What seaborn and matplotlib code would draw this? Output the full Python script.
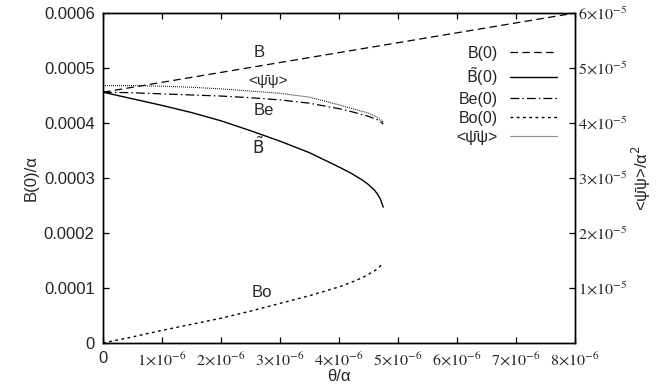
import numpy as np
import pandas as pd
import seaborn as sns
import matplotlib.pyplot as plt
from matplotlib.lines import Line2D

# theta/alpha in units of 1e-6
theta = [0, 0.5, 1.0, 1.5, 2.0, 2.5, 3.0, 3.5, 4.0, 4.2, 4.4, 4.5, 4.6, 4.65, 4.7, 4.75]
# values (units of 1e-4, left axis)
b_tilde = [4.56, 4.44, 4.32, 4.19, 4.04, 3.86, 3.67, 3.46, 3.20, 3.09, 2.96, 2.88, 2.78, 2.71, 2.62, 2.47]
b_even = [4.56, 4.55, 4.53, 4.51, 4.49, 4.46, 4.42, 4.36, 4.26, 4.21, 4.15, 4.12, 4.08, 4.06, 4.03, 3.98]
b_odd = [0.0, 0.11, 0.23, 0.34, 0.45, 0.58, 0.72, 0.86, 1.02, 1.10, 1.19, 1.25, 1.31, 1.35, 1.40, 1.46]
# condensate, units of 1e-5 (right axis)
psibar_psi = [4.68, 4.68, 4.67, 4.65, 4.62, 4.58, 4.54, 4.47, 4.33, 4.27, 4.21, 4.18, 4.13, 4.10, 4.06, 4.02]
# B(0) is a straight line
b_theta = [0, 8.0]
b_full = [4.56, 6.0]

xtick_vals = [1, 2, 3, 4, 5, 6, 7, 8]
ytick_left = [0, 1, 2, 3, 4, 5, 6]
ytick_right = [1, 2, 3, 4, 5, 6]

PSI = "<\u03c8\u0304\u03c8>"

sns.set_style("ticks")
plt.rcParams["font.family"] = ["Liberation Sans", "DejaVu Sans"]

x = np.array(theta) * 1e-6
df = pd.DataFrame({"theta": x,
                   "bt": np.array(b_tilde) * 1e-4,
                   "be": np.array(b_even) * 1e-4,
                   "bo": np.array(b_odd) * 1e-4,
                   "pp": np.array(psibar_psi) * 1e-5})

fig = plt.figure(figsize=(6.62, 3.85), dpi=100)
ax = fig.add_axes([0.1556, 0.1091, 0.713, 0.8571])
ax2 = ax.twinx()

styles = {
    "B": (0, (6, 3.5)),
    "Bt": "-",
    "Be": (0, (7, 2.5, 1.2, 2.5)),
    "Bo": (0, (2, 2.5)),
    "pp": (0, (0.8, 1.0)),
}

sns.lineplot(x=np.array(b_theta) * 1e-6, y=np.array(b_full) * 1e-4, ax=ax,
             color="k", lw=0.9, linestyle=styles["B"])
sns.lineplot(data=df, x="theta", y="bt", ax=ax, color="k", lw=1.0, linestyle=styles["Bt"])
sns.lineplot(data=df, x="theta", y="be", ax=ax, color="k", lw=0.9, linestyle=styles["Be"])
sns.lineplot(data=df, x="theta", y="bo", ax=ax, color="k", lw=1.0, linestyle=styles["Bo"])
sns.lineplot(data=df, x="theta", y="pp", ax=ax2, color="k", lw=0.8, linestyle=styles["pp"])

ax.set_xlim(0, 8e-6)
ax.set_ylim(0, 6e-4)
ax2.set_ylim(0, 6e-5)

ax.set_xticks([0] + [v * 1e-6 for v in xtick_vals])
ax.set_xticklabels(["0"] + [r"$%d{\times}10^{-6}$" % v for v in xtick_vals])
for i, t in enumerate(ax.get_xticklabels()):
    if i > 0:
        t.set_math_fontfamily("stix")
        t.set_fontsize(11.5)
    else:
        t.set_fontsize(12)

ax.set_yticks([v * 1e-4 for v in ytick_left])
ax.set_yticklabels(["0"] + ["0.000%d" % v for v in ytick_left[1:]], fontsize=12)

ax2.set_yticks([v * 1e-5 for v in ytick_right])
ax2.set_yticklabels([r"$%d{\times}10^{-5}$" % v for v in ytick_right])
for t in ax2.get_yticklabels():
    t.set_math_fontfamily("stix")
    t.set_fontsize(11.5)

for a in (ax, ax2):
    a.tick_params(direction="in", length=4, width=0.9, color="k")
    for s in a.spines.values():
        s.set_visible(True)
        s.set_linewidth(1.0)
        s.set_color("k")
ax.tick_params(axis="x", top=True, pad=6)
ax.tick_params(axis="y", pad=6)
ax2.tick_params(axis="y", pad=2)

ax.set_xlabel("θ/α", fontsize=12, labelpad=0)
ax.set_ylabel("B(0)/α", fontsize=12, labelpad=4)
ax2.set_ylabel(PSI + "/α$^2$", fontsize=12, labelpad=2, math_fontfamily="dejavusans")

# curve labels
ax.text(2.64e-6, 5.29e-4, "B", fontsize=12, ha="center", va="center")
ax.text(2.8e-6, 4.77e-4, PSI, fontsize=11, ha="center", va="center")
ax.text(2.72e-6, 4.22e-4, "Be", fontsize=12, ha="center", va="center")
ax.text(2.63e-6, 3.57e-4, r"$\tilde{\mathrm{B}}$", fontsize=12, ha="center", va="center",
        math_fontfamily="dejavusans")
ax.text(2.7e-6, 0.91e-4, "Bo", fontsize=12, ha="center", va="center")

handles = [
    Line2D([], [], color="k", lw=0.9, linestyle=styles["B"]),
    Line2D([], [], color="k", lw=1.0, linestyle=styles["Bt"]),
    Line2D([], [], color="k", lw=0.9, linestyle=styles["Be"]),
    Line2D([], [], color="k", lw=1.0, linestyle=styles["Bo"]),
    Line2D([], [], color="k", lw=0.8, linestyle=styles["pp"]),
]
labels = ["B(0)", r"$\tilde{\mathrm{B}}$(0)", "Be(0)", "Bo(0)", PSI]
leg = ax.legend(handles, labels, loc="upper right", bbox_to_anchor=(0.985, 0.935),
                frameon=False, markerfirst=False, fontsize=11.5, handlelength=2.9,
                handletextpad=0.8, labelspacing=0.25, borderaxespad=0.3)
for t in leg.get_texts():
    t.set_math_fontfamily("dejavusans")

fig.savefig("out.png", dpi=100)
